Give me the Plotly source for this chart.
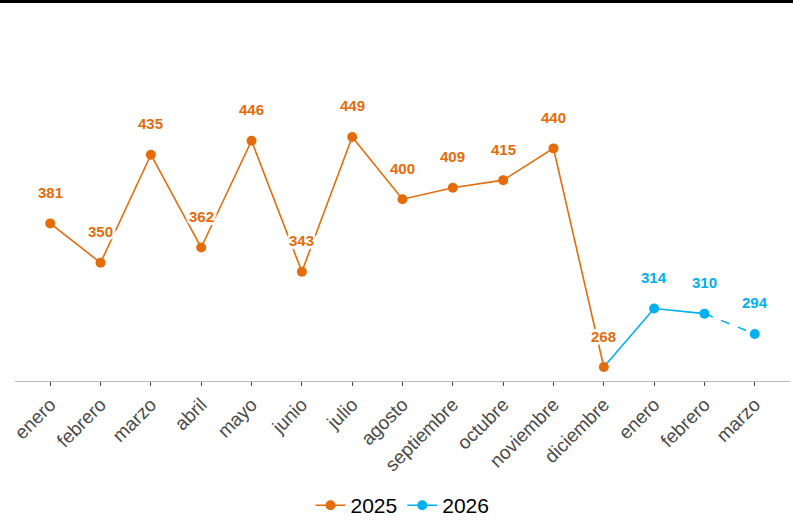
import plotly.graph_objects as go

months = ["enero", "febrero", "marzo", "abril", "mayo", "junio", "julio", "agosto",
          "septiembre", "octubre", "noviembre", "diciembre", "enero", "febrero", "marzo"]
values_2025 = [381, 350, 435, 362, 446, 343, 449, 400, 409, 415, 440, 268]
values_2026 = [314, 310, 294]

ORANGE = "#E46C0A"
BLUE = "#00B0F0"
halo = ("-2px -2px 1px #fff, 2px -2px 1px #fff, -2px 2px 1px #fff, 2px 2px 1px #fff, "
        "0 -3px 1px #fff, 0 3px 1px #fff, -3px 0 1px #fff, 3px 0 1px #fff")

x25 = list(range(len(values_2025)))
x26 = list(range(len(values_2025), len(values_2025) + len(values_2026)))

fig = go.Figure()
# 2026 solid part (connecting from last 2025 point)
fig.add_trace(go.Scatter(
    x=[x25[-1]] + x26[:2], y=[values_2025[-1]] + values_2026[:2],
    mode="lines", line=dict(color=BLUE, width=1.6),
    name="2026", showlegend=False, hoverinfo="skip"))
# 2026 dashed last segment
fig.add_trace(go.Scatter(
    x=x26[1:], y=values_2026[1:], mode="lines",
    line=dict(color=BLUE, width=1.6, dash="dash"), showlegend=False, hoverinfo="skip"))
# 2026 markers
fig.add_trace(go.Scatter(
    x=x26, y=values_2026, mode="markers", name="2026", showlegend=False,
    marker=dict(size=10, color=BLUE)))
# 2025
fig.add_trace(go.Scatter(
    x=x25, y=values_2025, mode="lines+markers", name="2025",
    line=dict(color=ORANGE, width=1.6), marker=dict(size=10, color=ORANGE)))
# legend entry for 2026
fig.add_trace(go.Scatter(
    x=[None], y=[None], mode="lines+markers", name="2026",
    line=dict(color=BLUE, width=1.6), marker=dict(size=10, color=BLUE)))

for xs, vs, col in ((x25, values_2025, ORANGE), (x26, values_2026, BLUE)):
    for x, v in zip(xs, vs):
        fig.add_annotation(x=x, y=v, text=str(v), showarrow=False, yshift=31,
                           font=dict(family="Liberation Sans, Arial", size=15,
                                     color=col, weight="bold", shadow=halo))

fig.add_shape(type="line", xref="paper", yref="paper", x0=-0.1, x1=1.1,
              y0=1.0512, y1=1.0512, line=dict(color="black", width=3))

fig.update_layout(
    width=793, height=520, margin=dict(l=15, r=3, t=20, b=139, autoexpand=False),
    plot_bgcolor="white", paper_bgcolor="white",
    font=dict(family="Liberation Sans, Arial"),
    xaxis=dict(range=[-0.7, 14.7], tickmode="array", automargin=False,
               tickvals=x25 + x26, ticktext=months, tickangle=-45,
               tickfont=dict(size=19, color="#4a4a4a"), showgrid=False, zeroline=False,
               showline=True, linecolor="#bbb", linewidth=1,
               ticks="outside", ticklen=4, tickcolor="#444"),
    yaxis=dict(range=[257, 541], visible=False, showgrid=False, zeroline=False,
               automargin=False),
    legend=dict(orientation="h", x=0.5, xanchor="center", y=-0.345, yanchor="middle",
                font=dict(size=21, color="black"), itemwidth=30, tracegroupgap=0),
)

fig.write_html("out.html", config={"displayModeBar": False},
               post_script="document.body.style.margin='0';document.body.style.padding='0';")
